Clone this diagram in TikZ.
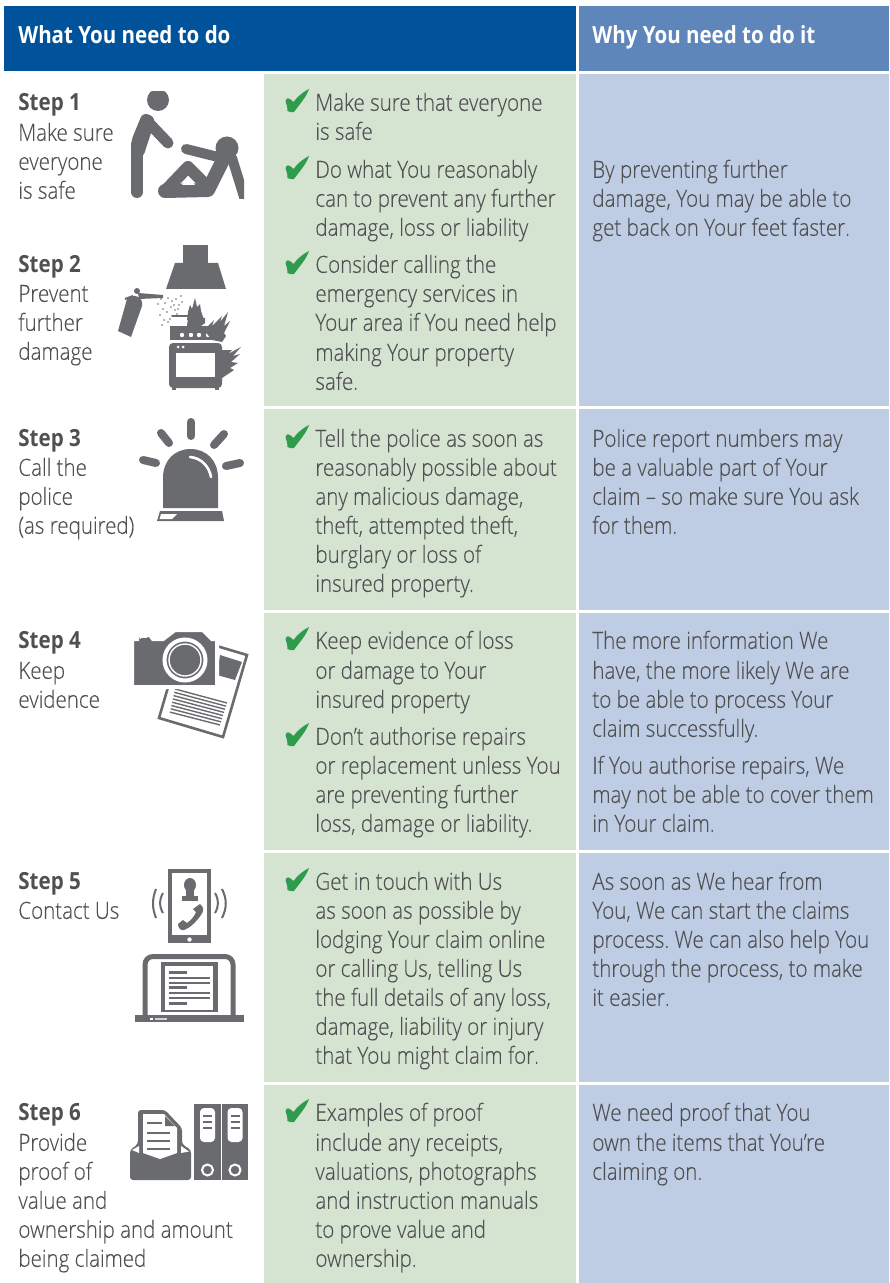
\documentclass[tikz,border=0pt]{standalone}
\usepackage{fontspec}
\setmainfont[FakeStretch=0.87,UprightFont=* Light,BoldFont=* Bold,UprightFeatures={FakeBold=0.2}]{Open Sans}
\frenchspacing
\definecolor{hdA}{HTML}{00529B}
\definecolor{hdB}{HTML}{5E86BB}
\definecolor{cellG}{HTML}{D5E3D1}
\definecolor{cellB}{HTML}{BECDE4}
\definecolor{ink}{HTML}{4F5052}
\definecolor{icon}{HTML}{6A6B6E}
\definecolor{tick}{HTML}{2F9B4C}
\newcount\tc
\newcommand\tl[3]{\global\advance\tc by 1 \node[txt,name=t\the\tc] at (#1,#2) {#3};}
\newcommand\stp[2]{\global\advance\tc by 1 \node[txt,font=\fontsize{11.8}{14}\selectfont\bfseries,name=t\the\tc] at (18,#1) {#2};}
\newcommand\ck[1]{\fill[tick,shift={(285,#1)}] (0.5,-9) .. controls (1.5,-12) and (4,-12.5) .. (5,-11) -- (8.5,-8) .. controls (13,-14) and (18,-18) .. (24,-21) .. controls (21.5,-13) and (14,-5) .. (9,2) .. controls (7,2.5) and (4,2) .. (2.5,1) .. controls (2.5,-3) and (1.5,-6) .. (0.5,-9) -- cycle;}
\tikzset{txt/.style={anchor=base west,inner sep=0pt,yshift=-0.4pt,text=ink,font=\fontsize{11.8}{14}\selectfont},
  hdr/.style={anchor=base west,inner sep=0pt,text=white,font=\fontsize{11.8}{14}\selectfont\bfseries},
  lim/.style={draw=icon,line cap=round,line join=round}}
\begin{document}
\begin{tikzpicture}[x=0.5pt,y=-0.5pt]
\useasboundingbox (0,0) rectangle (889,1283);
\fill[white] (0,0) rectangle (889,1283);
% header
\fill[hdA] (4,6) rectangle (576,71);
\fill[hdB] (579,6) rectangle (889,71);
\node[hdr,name=h1] at (18,44) {What You need to do};
\node[hdr,name=h2] at (592,44) {Why You need to do it};
% cells
\foreach \a/\b in {74/406,409/610,613/850,853/1082,1085/1283}{
  \fill[cellG] (264,\a) rectangle (576,\b);
  \fill[cellB] (579,\a) rectangle (889,\b);
}
% left column
\stp{110}{Step 1}\tl{18}{140}{Make sure}\tl{18}{169}{everyone}\tl{18}{198}{is safe}
\stp{272}{Step 2}\tl{18}{301}{Prevent}\tl{18}{330}{further}\tl{18}{359}{damage}
\stp{446}{Step 3}\tl{18}{475}{Call the}\tl{18}{504}{police}\tl{18}{533}{(as required)}
\stp{648}{Step 4}\tl{18}{678}{Keep}\tl{18}{707}{evidence}
\stp{889}{Step 5}\tl{18}{918}{Contact Us}
\stp{1120}{Step 6}\tl{18}{1150}{Provide}\tl{18}{1179}{proof of}\tl{18}{1208}{value and}\tl{18}{1237}{ownership and amount}\tl{18}{1266}{being claimed}
% middle column
\ck{110}\tl{315}{110}{Make sure that everyone}\tl{315}{139}{is safe}
\ck{177}\tl{315}{177}{Do what You reasonably}\tl{315}{206}{can to prevent any further}\tl{315}{235}{damage, loss or liability}
\ck{272}\tl{315}{272}{Consider calling the}\tl{315}{301}{emergency services in}\tl{315}{330}{Your area if You need help}\tl{315}{360}{making Your property}\tl{315}{389}{safe.}
\ck{446}\tl{315}{446}{Tell the police as soon as}\tl{315}{475}{reasonably possible about}\tl{315}{504}{any malicious damage,}\tl{315}{533}{theft, attempted theft,}\tl{315}{562}{burglary or loss of}\tl{315}{591}{insured property.}
\ck{648}\tl{315}{648}{Keep evidence of loss}\tl{315}{678}{or damage to Your}\tl{315}{707}{insured property}
\ck{744}\tl{315}{744}{Don’t authorise repairs}\tl{315}{773}{or replacement unless You}\tl{315}{802}{are preventing further}\tl{315}{831}{loss, damage or liability.}
\ck{889}\tl{315}{889}{Get in touch with Us}\tl{315}{918}{as soon as possible by}\tl{315}{947}{lodging Your claim online}\tl{315}{976}{or calling Us, telling Us}\tl{315}{1005}{the full details of any loss,}\tl{315}{1034}{damage, liability or injury}\tl{315}{1063}{that You might claim for.}
\ck{1120}\tl{315}{1120}{Examples of proof}\tl{315}{1150}{include any receipts,}\tl{315}{1179}{valuations, photographs}\tl{315}{1208}{and instruction manuals}\tl{315}{1237}{to prove value and}\tl{315}{1266}{ownership.}
% right column
\tl{592}{177}{By preventing further}\tl{592}{206}{damage, You may be able to}\tl{592}{235}{get back on Your feet faster.}
\tl{592}{446}{Police report numbers may}\tl{592}{475}{be a valuable part of Your}\tl{592}{504}{claim – so make sure You ask}\tl{592}{533}{for them.}
\tl{592}{648}{The more information We}\tl{592}{678}{have, the more likely We are}\tl{592}{707}{to be able to process Your}\tl{592}{736}{claim successfully.}
\tl{592}{773}{If You authorise repairs, We}\tl{592}{802}{may not be able to cover them}\tl{592}{831}{in Your claim.}
\tl{592}{889}{As soon as We hear from}\tl{592}{918}{You, We can start the claims}\tl{592}{947}{process. We can also help You}\tl{592}{976}{through the process, to make}\tl{592}{1005}{it easier.}
\tl{592}{1120}{We need proof that You}\tl{592}{1150}{own the items that You’re}\tl{592}{1179}{claiming on.}
% ---- Step 1 icon
\begin{scope}
\clip (125,92) rectangle (244,199);
\fill[icon] (158,100) circle[radius=11];
\draw[lim,line width=6pt] (137,192) -- (137,145);
\fill[icon,rounded corners=3pt] (131,141) -- (143,112) -- (156,118) -- (147,145) -- (143,158) -- (131,158) -- cycle;
\draw[lim,line width=5.5pt] (148,122) -- (168,143);
\fill[icon] (227,148) circle[radius=11.5];
\draw[lim,line width=5pt] (186,149) -- (222,158);
\draw[lim,line width=7pt] (225,156) -- (208,190) -- (165,191);
\draw[lim,line width=6pt] (165,191) -- (188,167) -- (207,186);
\draw[lim,line width=5pt] (232,158) -- (245,200);
\fill[white] (182,185) -- (195,185) -- (188.5,177) -- cycle;
\end{scope}
% ---- Step 2 icon
\fill[icon] (183,245) rectangle (208,264);
\fill[icon] (175,263) -- (218,263) -- (226,289) -- (166,289) -- cycle;
\fill[icon] (127,299) -- (118,331) -- (131,337) -- (142,306) .. controls (144,296) and (132,293) .. (127,299) -- cycle;
\fill[icon] (137,291) circle[radius=3];
\draw[icon,line width=1pt] (125,299) -- (133,296);
\fill[icon] (138,293) -- (163,295) -- (163,298) -- (139,299) -- cycle;
\foreach \p/\q in {161/299,165/303,168/298,172/301,176/299,179/305,181/296,163/309,167/312,171/307,175/310,160/315,164/320,168/322,172/316,177/314,182/302,158/304,170/319,162/325,174/305,178/309}{\fill[icon] (\p,\q) circle[radius=0.9];}
% pot and flame
\fill[icon] (188,318) -- (205,318) -- (205,323) -- (201,326) -- (187,326) -- cycle;
\fill[icon] (172,315) rectangle (188,317);
\fill[icon] (187,320) -- (188,312) -- (190,305) -- (192,309) -- (195,298) -- (197,307) -- (200,304) -- (201,311) -- (204,320) -- cycle;
\fill[icon] (170,326) rectangle (223,340);
\foreach \p in {182,191,199,208}{\fill[white] (\p,335) circle[radius=2.2];}
\fill[icon] (204,330) -- (214,320) -- (212,326) -- (222,316) -- (220,322) -- (228,312) -- (224,326) -- (230,321) -- (224,333) -- (226,336) -- (222,342) -- (212,340) -- cycle;
\fill[icon,rounded corners=2pt] (169,343) rectangle (222,388);
\fill[icon] (172,387) rectangle (176,390);\fill[icon] (215,387) rectangle (219,390);
\fill[white] (176,353) rectangle (215,377);
\foreach \p in {178,183}{\fill[white] (\p,347) circle[radius=1.5];}
\fill[icon] (221,350) -- (232,350) -- (228,354) -- (241,347) -- (233,356) -- (240,354) -- (231,362) -- (238,363) -- (230,368) -- (234,370) -- (222,378) -- cycle;
% ---- Step 3 icon
\draw[lim,line width=4pt] (191,422) -- (191,436);
\draw[lim,line width=4pt] (161,433) -- (169,443);
\draw[lim,line width=4pt] (224,434) -- (214,445);
\draw[lim,line width=4pt] (143,460) -- (156,463);
\draw[lim,line width=4pt] (240,463) -- (226,466);
\fill[icon] (163,508) -- (163,478) .. controls (163,460) and (175,449) .. (190.5,449) .. controls (206,449) and (218,460) .. (218,478) -- (218,508) -- cycle;
\draw[white,line width=1.3pt,line cap=round] (190,457) .. controls (201,458) and (209,466) .. (211,477);
\fill[icon] (160,511) -- (222,511) -- (224,521) -- (157,521) -- cycle;
\fill[white] (161,514) -- (177,514) -- (172,519) -- (159.5,519) -- cycle;
% ---- Step 4 icon
\draw[icon,fill=white,line width=1.3pt] (183,636) -- (247,655) -- (223,737) -- (159,718) -- cycle;
\fill[icon] (220,655) -- (242,662) -- (235,680) -- (217,675) -- cycle;
\foreach \i in {0,...,7}{\draw[icon,line width=0.7pt] ({175-0.72*\i},{689+3.3*\i}) -- ({227-1*\i},{703+3.14*\i});}
\fill[icon,draw=white,line width=2pt] (132,639) -- (137,639) -- (137,635) -- (150,635) -- (153,639) -- (163,639) -- (175,630) -- (203,630) -- (212,639) -- (217,639) -- (217,687) -- (132,687) -- cycle;
\draw[white,line width=0.8pt] (140,638.5) -- (141,637) -- (147,637);
\draw[white,line width=2pt] (185,660) circle[radius=20.5];
\draw[white,line width=0.7pt] (185,660) circle[radius=16];
% ---- Step 5 icon
\fill[icon] (168,869) rectangle (211,943);
\fill[white] (172,873) rectangle (207,935);
\fill[white] (189.5,939.5) circle[radius=2.2];
\fill[icon] (190,885) ellipse[x radius=6,y radius=7];
\fill[icon] (186,890) rectangle (194,896);\fill[icon] (182,896) rectangle (198,901);
\fill[icon] (200,904) .. controls (204,907) and (204,911) .. (201,915) .. controls (196,922) and (190,928) .. (184,930) .. controls (181,931) and (178,928) .. (178,924) -- (183,920) -- (187,923) .. controls (191,920) and (194,917) .. (196,912) -- (193,909) -- cycle;
\draw[icon,line width=1pt] (156,889) .. controls (152,899) and (152,908) .. (156,918);
\draw[icon,line width=1pt] (163,893) .. controls (159,900) and (159,906) .. (163,913);
\draw[icon,line width=1pt] (215,893) .. controls (219,900) and (219,906) .. (215,913);
\draw[icon,line width=1pt] (222,889) .. controls (227,899) and (227,908) .. (222,918);
\draw[icon,line width=2.5pt,rounded corners=4pt] (145,1016) -- (145,956.5) -- (233,956.5) -- (233,1016);
\fill[icon] (135,1015) rectangle (244,1022);
\fill[icon] (161,962) rectangle (218,1012);
\fill[white] (165,966) rectangle (213,1010);
\foreach \q in {972,987,1003}{\fill[icon] (169,\q-1.5) rectangle (187,\q+1.5);}
\foreach \q in {978,983,993,998}{\draw[icon,line width=0.6pt] (169,\q) -- (210,\q);}
\fill[white] (150,1017.5) rectangle (153,1020);
\fill[white!70!icon] (155,1018) rectangle (167,1020);
% ---- Step 6 icon
\fill[icon,rounded corners=1.5pt] (130,1180) -- (130,1150) -- (138,1144) -- (138,1110) -- (165,1110) -- (182,1128) -- (182,1144) -- (191,1150) -- (191,1180) -- cycle;
\fill[white] (143,1114) -- (164,1114) -- (177,1128) -- (177,1153) -- (160,1159) -- (143,1153) -- cycle;
\fill[icon] (165,1116) -- (165,1126) -- (175,1126) -- cycle;
\foreach \q/\e in {1123/162,1133/170,1141/170,1149/170}{\draw[icon,line width=0.9pt] (147,\q) -- (\e,\q);}
\fill[white] (132,1150) -- (139,1146) -- (139,1153) -- cycle;
\fill[white] (181,1146) -- (189,1151.5) -- (181,1153) -- cycle;
\fill[icon] (194,1104) rectangle (221,1180);
\fill[icon] (222,1104) rectangle (248,1180);
\foreach \cx in {207.5,235}{
  \fill[white,rounded corners=2pt] (\cx-7.5,1108) rectangle (\cx+7.5,1142);
  \foreach \q in {1116,1122,1128}{\draw[icon,line width=0.8pt] (\cx-4.5,\q) -- (\cx+4.5,\q);}
  \draw[white,line width=1pt] (\cx,1170) circle[radius=5.5];
}
\end{tikzpicture}
\end{document}
